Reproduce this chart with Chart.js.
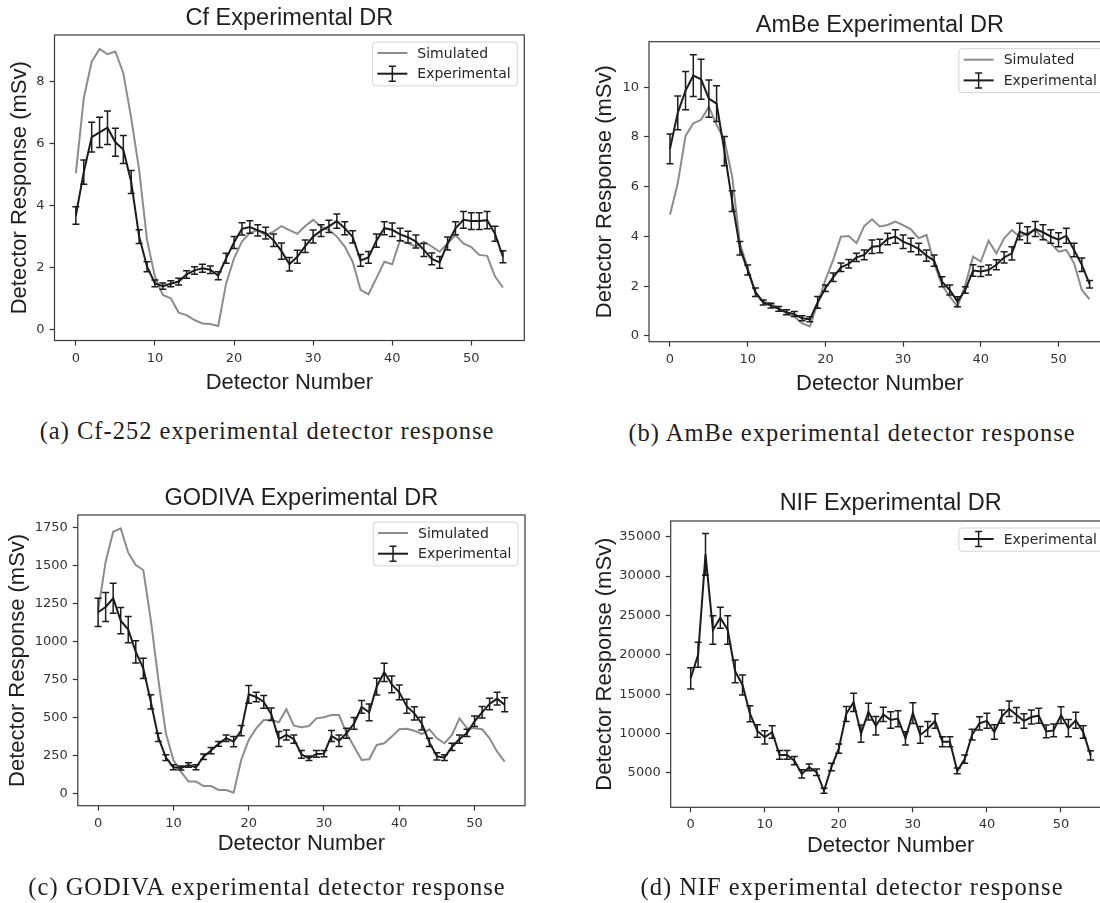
<!DOCTYPE html>
<html>
<head>
<meta charset="utf-8">
<script src="https://cdn.jsdelivr.net/npm/chart.js@4.4.0/dist/chart.umd.min.js"></script>
<style>
  html, body { margin: 0; padding: 0; background: #fff; overflow: hidden; }
  body { width: 1100px; height: 903px; position: relative; }
  canvas { position: absolute; }
  .cap {
    position: absolute; white-space: nowrap; color: #1e1e1e;
    font-family: 'Liberation Serif', serif; font-size: 24.5px; letter-spacing: 1px;
    transform: translate(-50%, -50%);
  }
</style>
</head>
<body>
<canvas id="cfChart" width="560" height="400" style="left:0px;top:0px"></canvas>
<canvas id="ambeChart" width="560" height="400" style="left:560px;top:0px"></canvas>
<canvas id="godivaChart" width="560" height="443" style="left:0px;top:460px"></canvas>
<canvas id="nifChart" width="560" height="443" style="left:560px;top:460px"></canvas>
<div class="cap" style="left:267px;top:431px">(a) Cf-252 experimental detector response</div>
<div class="cap" style="left:852px;top:433px">(b) AmBe experimental detector response</div>
<div class="cap" style="left:267px;top:887px">(c) GODIVA experimental detector response</div>
<div class="cap" style="left:852px;top:887px">(d) NIF experimental detector response</div>
<script>
// detector index (x axis)
const detectors = [0, 1, 2, 3, 4, 5, 6, 7, 8, 9, 10, 11, 12, 13, 14, 15, 16, 17, 18, 19, 20,
  21, 22, 23, 24, 25, 26, 27, 28, 29, 30, 31, 32, 33, 34, 35, 36, 37, 38, 39, 40,
  41, 42, 43, 44, 45, 46, 47, 48, 49, 50, 51, 52, 53, 54];
const xTicks = [0, 10, 20, 30, 40, 50];

// Cf-252
const cfSim = [5.03, 7.45, 8.63, 9.04, 8.87, 8.96, 8.26, 6.81, 5.14, 2.88, 1.7, 1.11, 1.0, 0.54, 0.46, 0.3, 0.19, 0.17, 0.11, 1.48,
  2.29, 2.83, 3.1, 3.2, 3.04, 3.15, 3.33, 3.2, 3.08, 3.33, 3.53, 3.31, 3.2, 2.99, 2.67, 2.18, 1.27, 1.13, 1.65, 2.18,
  2.1, 2.88, 2.77, 2.67, 2.83, 2.67, 2.5, 2.77, 3.04, 2.77, 2.65, 2.4, 2.37, 1.7, 1.35];
const cfExp = [3.67, 5.07, 6.2, 6.35, 6.5, 6.03, 5.8, 4.75, 2.99, 2.02, 1.48, 1.39, 1.47, 1.54, 1.77, 1.9, 1.97, 1.92, 1.73, 2.29,
  2.8, 3.24, 3.3, 3.19, 3.1, 2.87, 2.52, 2.1, 2.34, 2.68, 2.99, 3.18, 3.32, 3.49, 3.26, 2.98, 2.22, 2.32, 2.86, 3.26,
  3.21, 3.06, 2.97, 2.83, 2.56, 2.27, 2.16, 2.77, 3.26, 3.53, 3.49, 3.49, 3.52, 3.08, 2.34];
const cfErr = [0.28, 0.39, 0.48, 0.49, 0.54, 0.45, 0.45, 0.37, 0.22, 0.16, 0.11, 0.1, 0.1, 0.11, 0.12, 0.12, 0.13, 0.12, 0.13, 0.16,
  0.19, 0.2, 0.2, 0.18, 0.19, 0.2, 0.26, 0.22, 0.21, 0.2, 0.21, 0.19, 0.2, 0.23, 0.21, 0.2, 0.19, 0.19, 0.21, 0.21,
  0.22, 0.2, 0.19, 0.21, 0.21, 0.19, 0.19, 0.21, 0.21, 0.27, 0.27, 0.27, 0.28, 0.24, 0.19];
const cfYTicks = [0, 2, 4, 6, 8];

// AmBe
const ambeSim = [4.87, 6.14, 8.04, 8.55, 8.69, 9.22, 8.49, 7.88, 6.41, 3.73, 2.72, 1.72, 1.38, 1.31, 1.11, 0.91, 0.78, 0.51, 0.38, 1.31,
  2.25, 3.06, 3.99, 4.02, 3.73, 4.42, 4.69, 4.4, 4.46, 4.6, 4.46, 4.29, 3.93, 4.06, 2.92, 2.05, 1.59, 1.18, 2.05, 3.19,
  2.99, 3.83, 3.32, 3.93, 4.26, 3.99, 4.13, 4.26, 3.93, 3.73, 3.39, 3.46, 2.92, 1.85, 1.47];
const ambeExp = [7.52, 8.97, 9.86, 10.47, 10.32, 9.54, 9.34, 7.43, 5.42, 3.53, 2.65, 1.76, 1.35, 1.22, 1.09, 0.95, 0.88, 0.71, 0.67, 1.35,
  1.92, 2.36, 2.76, 2.9, 3.16, 3.26, 3.59, 3.62, 3.9, 4.0, 3.79, 3.66, 3.5, 3.23, 3.03, 2.18, 1.85, 1.38, 1.85, 2.63,
  2.59, 2.65, 2.86, 3.16, 3.32, 4.2, 4.06, 4.3, 4.17, 4.0, 3.87, 4.03, 3.46, 2.86, 2.08];
const ambeErr = [0.6, 0.68, 0.77, 0.84, 0.8, 0.75, 0.72, 0.59, 0.42, 0.27, 0.2, 0.17, 0.1, 0.1, 0.1, 0.1, 0.1, 0.1, 0.1, 0.24,
  0.13, 0.17, 0.17, 0.17, 0.17, 0.2, 0.27, 0.27, 0.23, 0.27, 0.27, 0.27, 0.23, 0.23, 0.23, 0.2, 0.2, 0.2, 0.13, 0.23,
  0.2, 0.2, 0.2, 0.23, 0.27, 0.33, 0.33, 0.3, 0.3, 0.27, 0.28, 0.3, 0.27, 0.27, 0.15];
const ambeYTicks = [0, 2, 4, 6, 8, 10];

// GODIVA
const godivaSim = [1200, 1524, 1721, 1743, 1583, 1502, 1469, 1140, 746, 395, 219, 143, 77, 77, 48, 48, 22, 22, 4, 219,
  351, 428, 482, 482, 467, 553, 445, 434, 443, 493, 500, 515, 515, 395, 307, 219, 224, 318, 329, 373,
  421, 425, 412, 390, 421, 362, 329, 384, 493, 428, 428, 421, 362, 274, 208];
const godivaExp = [1191, 1226, 1283, 1136, 1077, 930, 822, 601, 368, 235, 171, 167, 186, 171, 241, 281, 325, 362, 340, 412,
  651, 634, 601, 520, 357, 384, 357, 256, 230, 259, 261, 377, 346, 395, 460, 568, 533, 702, 796, 717,
  664, 572, 526, 458, 335, 243, 235, 305, 357, 397, 474, 533, 588, 623, 583];
const godivaErr = [93, 95, 99, 87, 86, 73, 66, 47, 27, 19, 16, 13, 15, 16, 18, 21, 16, 22, 33, 34,
  58, 31, 42, 41, 49, 33, 27, 25, 15, 22, 20, 36, 38, 33, 39, 42, 55, 55, 60, 55,
  49, 46, 44, 42, 27, 24, 19, 24, 27, 24, 35, 38, 38, 42, 46];
const godivaYTicks = [0, 250, 500, 750, 1000, 1250, 1500, 1750];

// NIF
const nifExp = [17017, 20000, 32750, 23150, 24700, 23150, 17900, 16170, 12530, 10330, 9530, 10200, 7290, 7290, 6570, 4880, 5720, 5100, 2740, 5760,
  8090, 12490, 13970, 9990, 12780, 11000, 12430, 11730, 11900, 9400, 12600, 9830, 10580, 11600, 8980, 8980, 5260, 6760, 9870, 11300,
  11620, 10200, 12150, 13150, 12350, 11600, 12100, 12270, 10280, 10400, 12350, 10700, 11680, 10200, 7240];
const nifErr = [1354, 1586, 2644, 1819, 1332, 1819, 1438, 1269, 1015, 783, 846, 804, 550, 550, 529, 529, 423, 420, 317, 465,
  592, 952, 1163, 1100, 1058, 1163, 909, 1058, 1015, 846, 1311, 1058, 952, 909, 635, 635, 360, 529, 677, 846,
  952, 909, 846, 994, 973, 909, 888, 952, 804, 804, 1058, 1100, 1015, 783, 592];
const nifYTicks = [5000, 10000, 15000, 20000, 25000, 30000, 35000];

const SIM_COLOR = '#8c8c8c';
const EXP_COLOR = '#1c1c1c';
const TEXT_COLOR = '#1e1e1e';
const TICK_FONT = { family: 'DejaVu Sans', size: 13 };
const LABEL_FONT = { family: 'Liberation Sans', size: 22, weight: 'normal' };

// error bars, axes frame and the boxed legend
const errorBarsAndFrame = {
  id: 'errorBarsAndFrame',
  afterDatasetsDraw(chart) {
    const { ctx, scales: { x, y } } = chart;
    chart.data.datasets.forEach(ds => {
      if (!ds.errors) return;
      ctx.save();
      ctx.strokeStyle = ds.borderColor;
      ctx.lineWidth = 1.5;
      ds.data.forEach((p, i) => {
        const px = x.getPixelForValue(p.x);
        const top = y.getPixelForValue(p.y + ds.errors[i]);
        const bot = y.getPixelForValue(p.y - ds.errors[i]);
        ctx.beginPath();
        ctx.moveTo(px, top); ctx.lineTo(px, bot);
        ctx.moveTo(px - 3.5, top); ctx.lineTo(px + 3.5, top);
        ctx.moveTo(px - 3.5, bot); ctx.lineTo(px + 3.5, bot);
        ctx.stroke();
      });
      ctx.restore();
    });
  },
  afterDraw(chart) {
    const { ctx, chartArea: a } = chart;
    ctx.save();
    ctx.strokeStyle = '#3a3a3a';
    ctx.lineWidth = 1.2;
    ctx.strokeRect(a.left, a.top, a.right - a.left, a.bottom - a.top);

    // legend
    const sets = chart.data.datasets;
    ctx.font = '14px "DejaVu Sans"';
    const textW = Math.max(...sets.map(d => ctx.measureText(d.label).width));
    const w = 4.7 + 30 + 10 + textW + 6.6;
    const h = sets.length * 20.7 + 2.5;
    const bx = a.right - 7 - w, by = a.top + 7;
    ctx.fillStyle = 'rgba(255,255,255,0.8)';
    ctx.strokeStyle = '#d4d4d4';
    ctx.lineWidth = 1;
    ctx.beginPath();
    if (ctx.roundRect) ctx.roundRect(bx, by, w, h, 3); else ctx.rect(bx, by, w, h);
    ctx.fill(); ctx.stroke();
    sets.forEach((d, i) => {
      const cy = by + 11 + i * 20.7;
      const lx = bx + 4.7;
      ctx.strokeStyle = d.borderColor;
      ctx.lineWidth = d.borderWidth;
      ctx.beginPath(); ctx.moveTo(lx, cy); ctx.lineTo(lx + 30, cy); ctx.stroke();
      if (d.errors) {
        ctx.lineWidth = 1.5;
        ctx.beginPath();
        ctx.moveTo(lx + 15, cy - 7.5); ctx.lineTo(lx + 15, cy + 7.5);
        ctx.moveTo(lx + 11.5, cy - 7.5); ctx.lineTo(lx + 18.5, cy - 7.5);
        ctx.moveTo(lx + 11.5, cy + 7.5); ctx.lineTo(lx + 18.5, cy + 7.5);
        ctx.stroke();
      }
      ctx.fillStyle = '#262626';
      ctx.textBaseline = 'middle';
      ctx.textAlign = 'left';
      ctx.fillText(d.label, lx + 40, cy + 1);
    });
    ctx.restore();
  }
};

const tickGrid = { display: true, drawOnChartArea: false, drawTicks: true, tickLength: 5, tickColor: '#333', tickWidth: 1.2 };

function buildChart(id, p) {
  const datasets = [];
  if (p.sim) {
    datasets.push({
      label: 'Simulated',
      data: detectors.map((d, i) => ({ x: d, y: p.sim[i] })),
      borderColor: SIM_COLOR, borderWidth: 2, pointRadius: 0, order: 2
    });
  }
  datasets.push({
    label: 'Experimental',
    data: detectors.map((d, i) => ({ x: d, y: p.exp[i] })),
    errors: p.err,
    borderColor: EXP_COLOR, borderWidth: 2, pointRadius: 0, order: 1
  });

  return new Chart(document.getElementById(id), {
    type: 'line',
    data: { datasets },
    options: {
      responsive: false,
      animation: false,
      events: [],
      layout: { padding: p.pad },
      elements: { line: { tension: 0 } },
      plugins: {
        legend: { display: false },
        tooltip: { enabled: false },
        title: {
          display: true, text: p.title, fullSize: false, color: TEXT_COLOR,
          font: { family: 'Liberation Sans', size: 23.5, weight: 'normal' },
          padding: p.titlePad
        }
      },
      scales: {
        x: {
          type: 'linear', min: -2.7, max: 56.7,
          afterBuildTicks: s => { s.ticks = xTicks.map(v => ({ value: v })); },
          afterFit: s => { s.height = p.xH; },
          grid: tickGrid,
          border: { display: false },
          ticks: { font: TICK_FONT, color: '#333', padding: 5, maxRotation: 0, autoSkip: false, callback: v => String(v) },
          title: { display: true, text: 'Detector Number', color: TEXT_COLOR, font: LABEL_FONT, padding: { top: 0, bottom: 0 } }
        },
        y: {
          type: 'linear', min: p.yMin, max: p.yMax,
          afterBuildTicks: s => { s.ticks = p.yTicks.map(v => ({ value: v })); },
          afterFit: s => { s.width = p.yW; },
          grid: tickGrid,
          border: { display: false },
          ticks: { font: TICK_FONT, color: '#333', padding: 5, autoSkip: false, callback: v => String(v) },
          title: { display: true, text: 'Detector Response (mSv)', color: TEXT_COLOR, font: LABEL_FONT, padding: { top: p.yTitlePad, bottom: 0 } }
        }
      }
    },
    plugins: [errorBarsAndFrame]
  });
}

buildChart('cfChart', {
  title: 'Cf Experimental DR', sim: cfSim, exp: cfExp, err: cfErr, yTicks: cfYTicks,
  yMin: -0.36, yMax: 9.49,
  pad: { left: 0, top: 0, right: 35.7, bottom: 3.8 }, titlePad: { top: 4.6, bottom: 2.2 },
  yW: 54.5, yTitlePad: 7.1, xH: 55.7
});

buildChart('ambeChart', {
  title: 'AmBe Experimental DR', sim: ambeSim, exp: ambeExp, err: ambeErr, yTicks: ambeYTicks,
  yMin: -0.23, yMax: 11.83,
  pad: { left: 0, top: 0, right: 9.4, bottom: 3.2 }, titlePad: { top: 11.4, bottom: 2.1 },
  yW: 89, yTitlePad: 31.8, xH: 55.1
});

buildChart('godivaChart', {
  title: 'GODIVA Experimental DR', sim: godivaSim, exp: godivaExp, err: godivaErr, yTicks: godivaYTicks,
  yMin: -81.6, yMax: 1831,
  pad: { left: 0, top: 20, right: 35, bottom: 46.2 }, titlePad: { top: 4.9, bottom: 1.9 },
  yW: 77.8, yTitlePad: 4.8, xH: 51.1
});

buildChart('nifChart', {
  title: 'NIF Experimental DR', exp: nifExp, err: nifErr, yTicks: nifYTicks,
  yMin: 647, yMax: 36980,
  pad: { left: 0, top: 20, right: 9.4, bottom: 43.4 }, titlePad: { top: 9.9, bottom: 2.9 },
  yW: 110.7, yTitlePad: 31.8, xH: 52.3
});
</script>
</body>
</html>
